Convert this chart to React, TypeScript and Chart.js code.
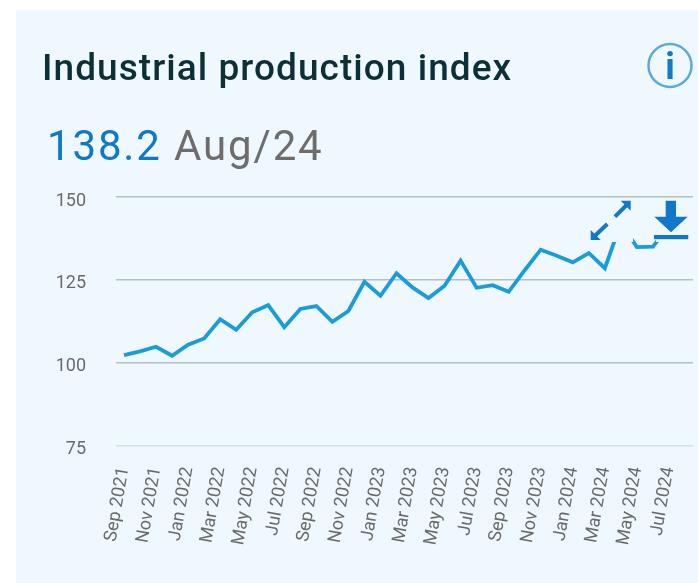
import React, { useEffect, useRef } from "react";
import { Chart, registerables } from "chart.js";

Chart.register(...registerables);

const months = [
  "Sep 2021","Oct 2021","Nov 2021","Dec 2021","Jan 2022","Feb 2022","Mar 2022","Apr 2022","May 2022","Jun 2022","Jul 2022","Aug 2022",
  "Sep 2022","Oct 2022","Nov 2022","Dec 2022","Jan 2023","Feb 2023","Mar 2023","Apr 2023","May 2023","Jun 2023","Jul 2023","Aug 2023",
  "Sep 2023","Oct 2023","Nov 2023","Dec 2023","Jan 2024","Feb 2024","Mar 2024","Apr 2024","May 2024","Jun 2024","Jul 2024","Aug 2024",
];
const productionIndex = [
  102.3,103.4,104.8,102.1,105.4,107.3,113.1,109.9,115.2,117.4,110.7,116.2,
  117.1,112.3,115.6,124.4,120.2,127.0,122.7,119.5,123.2,130.8,122.6,123.4,
  121.4,127.9,134.1,132.3,130.3,133.1,128.5,142.1,134.9,135.0,141.2,138.2,
];
const yTicks = [75, 100, 125, 150];

const BG = "#eff8ff";
const FONT = "Roboto, sans-serif";

export default function App() {
  const ref = useRef<HTMLCanvasElement | null>(null);

  useEffect(() => {
    document.body.style.margin = "0";
    const ctx: any = ref.current!.getContext("2d");
    ctx.letterSpacing = "1px";
    const chart = new Chart(ref.current!, {
      type: "line",
      data: {
        labels: months,
        datasets: [
          {
            data: productionIndex,
            borderColor: "#1a9cd9",
            borderWidth: 3.8,
            pointRadius: 0,
            tension: 0,
            borderJoinStyle: "miter",
            clip: false,
          },
        ],
      },
      options: {
        animation: false,
        responsive: false,
        layout: { padding: { top: 197, right: 5, bottom: 0, left: 0 } },
        plugins: { legend: { display: false }, tooltip: { enabled: false } },
        scales: {
          x: {
            offset: true,
            border: { display: false },
            grid: { display: false },
            afterFit: (s: any) => {
              s.height = 583 - 197 - 248.5;
              s.paddingLeft = 0;
              s.paddingRight = 0;
            },
            ticks: {
              autoSkip: false,
              callback(_v: any, i: number) { return i % 2 === 0 ? months[i] : ""; },
              minRotation: 80,
              maxRotation: 80,
              padding: 12,
              color: "#6a6a6a",
              font: { family: FONT, size: 18 },
            },
          },
          y: {
            min: 75,
            max: 150,
            border: { display: false },
            afterFit: (s: any) => {
              s.width = 116;
              s.paddingTop = 0;
              s.paddingBottom = 0;
            },
            afterBuildTicks: (s: any) => { s.ticks = yTicks.map((value) => ({ value })); },
            grid: {
              drawTicks: false,
              lineWidth: 1.5,
              color: (c: any) => (c.tick && c.tick.value === 75 ? "#d3dfec" : "#b3c0c4"),
            },
            ticks: {
              padding: 30,
              labelOffset: 4,
              color: "#6a6a6a",
              font: { family: FONT, size: 18 },
            },
          },
        },
      },
    });
    return () => chart.destroy();
  }, []);

  return (
    <div style={{ position: "relative", width: 698, height: 583, overflow: "hidden", background: "#fff", fontFamily: FONT }}>
      <div style={{ position: "absolute", left: 16, top: 10, right: 0, bottom: 0, background: BG }} />
      <canvas ref={ref} width={698} height={583} style={{ position: "absolute", left: 0, top: 0, display: "block" }} />
      <div style={{ position: "absolute", left: 42, top: 46, fontSize: 37, fontWeight: 500, letterSpacing: 1.05, color: "#0c2f38", whiteSpace: "nowrap", lineHeight: "44px" }}>
        Industrial production index
      </div>
      <div style={{ position: "absolute", left: 47, top: 121, fontSize: 42, letterSpacing: 1.85, whiteSpace: "nowrap", lineHeight: "50px", color: "#6d6d6d" }}>
        <span style={{ color: "#0f78c8" }}>138.2</span> Aug/24
      </div>
      <svg width={698} height={583} style={{ position: "absolute", left: 0, top: 0 }}>
        <circle cx={670} cy={65.5} r={21.5} fill="none" stroke="#5aa9dc" strokeWidth={2.5} />
        <text x={670} y={79} textAnchor="middle" fontSize={36} fontWeight={700} fill="#0f7bc8" fontFamily={FONT}>i</text>

        <rect x={588} y={199} width={45} height={43} fill={BG} />
        <path d="M615 216.7 L626.7 205" stroke="#0f78c8" strokeWidth={4} fill="none" />
        <path d="M620.7 200.7 H630.7 V210.7 Z" fill="#0f78c8" />
        <path d="M607.3 224 L595 235.7" stroke="#0f78c8" strokeWidth={4} fill="none" />
        <path d="M590.7 230 V240 H600.7 Z" fill="#0f78c8" />

        <rect x={656} y={199} width={34} height={43} fill={BG} />
        <path d="M665.7 200.7 H676 V216.7 H687.7 L671 232.3 L654.3 216.7 H665.7 Z" fill="#0f78c8" />
        <rect x={654} y={235} width={34.3} height={4.2} fill="#0f78c8" />
      </svg>
    </div>
  );
}
